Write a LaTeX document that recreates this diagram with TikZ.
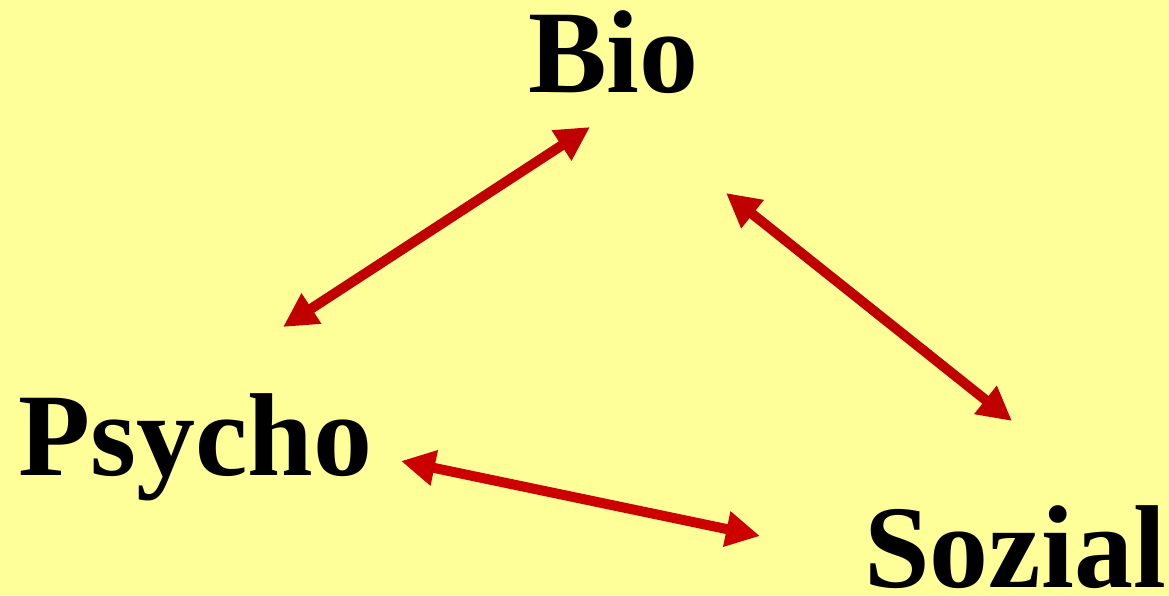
\documentclass[tikz,border=0pt]{standalone}
\usepackage{fontspec}
\setmainfont{Liberation Serif}
\usetikzlibrary{arrows.meta}
\definecolor{bgyellow}{HTML}{FFFF99}
\definecolor{linkred}{HTML}{C00000}
\definecolor{linkredlight}{HTML}{CC0000}
\begin{document}
\begin{tikzpicture}[x=1pt,y=-1pt,
  label text/.style={inner sep=0pt,anchor=base west,font=\fontsize{118}{118}\selectfont\bfseries},
  link/.style={line width=10pt,draw=linkred,{Triangle[length=34pt,width=34pt]}-{Triangle[length=34pt,width=34pt]}}]
  \fill[bgyellow] (0,0) rectangle (1169,595);
  \useasboundingbox (0,0) rectangle (1169,595);
  % the three labels
  \node[label text] (bio) at (528,92) {Bio};
  \node[label text] (psycho) at (18,475) {Psycho};
  \node[label text] (sozial) at (864,587) {Sozial};
  % arrow end points
  \coordinate (bio-l) at (590,127);
  \coordinate (bio-r) at (726,193);
  \coordinate (psycho-t) at (283,327);
  \coordinate (psycho-r) at (401,461);
  \coordinate (sozial-t) at (1012,421);
  \coordinate (sozial-l) at (760,536);
  % two-way links
  \draw[link] (psycho-t) -- (bio-l);
  \draw[link] (bio-r) -- (sozial-t);
  \draw[link,draw=linkredlight] (psycho-r) -- (sozial-l);
\end{tikzpicture}
\end{document}
